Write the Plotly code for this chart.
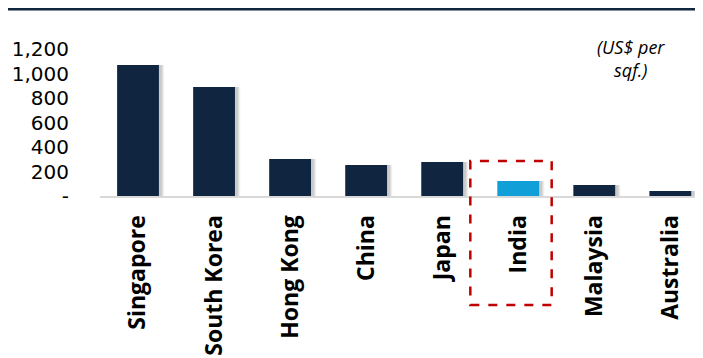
import plotly.graph_objects as go

countries = ["Singapore", "South Korea", "Hong Kong", "China", "Japan", "India", "Malaysia", "Australia"]
rent_usd_sqf = [1070, 890, 302, 253, 277, 122, 90, 41]
highlight = "India"

y_tickvals = [0, 200, 400, 600, 800, 1000, 1200]
y_ticktext = ["-", "200", "400", "600", "800", "1,000", "1,200"]

NAVY = "#10253f"
BLUE = "#109fd6"

bar_colors = [BLUE if c == highlight else NAVY for c in countries]

fig = go.Figure()

# soft drop shadow behind the bars (a few faint layers)
for off, alpha in [(-0.205, 0.05), (-0.22, 0.07), (-0.235, 0.09)]:
    fig.add_trace(go.Bar(
        x=countries, y=rent_usd_sqf, width=0.55, offset=off,
        marker=dict(color=f"rgba(0,0,0,{alpha})", line=dict(width=0)),
        hoverinfo="skip", showlegend=False,
    ))
fig.add_trace(go.Bar(
    x=countries, y=rent_usd_sqf, width=0.55, offset=-0.275,
    marker=dict(color=bar_colors, line=dict(width=0)),
    showlegend=False,
))

# page body has an 8px margin, so the figure is sized/offset to compensate
fig.update_layout(
    width=695, height=350,
    margin=dict(l=92, r=0, t=41, b=162),
    barmode="overlay",
    plot_bgcolor="white", paper_bgcolor="white",
    font=dict(family="Open Sans, Liberation Sans, sans-serif", color="black"),
)

fig.update_xaxes(
    range=[-0.5, 7.43], tickangle=-90, showgrid=False,
    showline=True, linecolor="#d9d9d9", linewidth=2, ticks="",
    tickfont=dict(size=23, family="Open Sans", weight="bold"),
    ticklabelstandoff=8,
)
fig.update_yaxes(
    range=[0, 1200], tickvals=y_tickvals, ticktext=y_ticktext,
    showgrid=False, zeroline=False, showline=False, ticks="",
    tickfont=dict(size=20, family="DejaVu Sans"),
    ticklabelstandoff=30,
)

# dark rule across the top
fig.add_shape(type="line", xref="paper", yref="paper", x0=-0.2, x1=1.1,
              y0=1.276, y1=1.276, line=dict(color=NAVY, width=4))

# dashed highlight box around India
fig.add_shape(type="rect", xref="x", yref="paper", x0=4.37, x1=5.44,
              y0=-0.741, y1=0.238, line=dict(color="#c00000", width=2.5, dash="dash"))

fig.add_annotation(
    text="<i>(US$ per<br>sqf.)</i>", xref="paper", yref="paper",
    x=(631 - 100) / 603, y=(196 - 59) / 147, xanchor="center", yanchor="middle",
    showarrow=False, align="center", font=dict(size=18, family="Open Sans"),
)

fig.write_html("out.html")
